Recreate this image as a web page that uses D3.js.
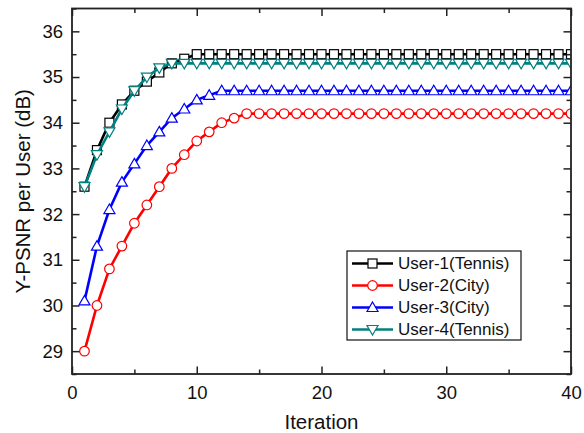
<!DOCTYPE html>
<html>
<head>
  <meta charset="utf-8">
  <title>Y-PSNR per User</title>
  <style>
    body { margin: 0; background: #fff; }
    text { font-family: Arial, "Liberation Sans", sans-serif; fill: #111; }
  </style>
</head>
<body>
  <div id="graph"></div>
  <script src="https://cdn.jsdelivr.net/npm/d3@7"></script>
  <script>
    // iterations 1..40
    const iterations = d3.range(1, 41);

    // values, the tail stays flat
    const user1 = [32.6, 33.4, 34.0, 34.4, 34.7, 34.9, 35.1, 35.3, 35.4, 35.5];
    const user2 = [29.0, 30.0, 30.8, 31.3, 31.8, 32.2, 32.6, 33.0, 33.3, 33.6, 33.8, 34.0, 34.1, 34.2];
    const user3 = [30.1, 31.3, 32.1, 32.7, 33.1, 33.5, 33.8, 34.1, 34.3, 34.5, 34.6, 34.7];
    const user4 = [32.6, 33.3, 33.8, 34.3, 34.7, 35.0, 35.2, 35.3];

    const seriesNames = ["User-1(Tennis)", "User-2(City)", "User-3(City)", "User-4(Tennis)"];
    const seriesColors = ["#000000", "#ff0000", "#0000ff", "#008080"];
    const seriesMarkers = ["square", "circle", "triangle", "triangleDown"];

    const xTicks = [0, 10, 20, 30, 40];
    const yTicks = [29, 30, 31, 32, 33, 34, 35, 36];

    // pad each series out to 40 iterations with its last value
    function fill(vals) {
      return iterations.map((it, i) => ({ x: it, y: i < vals.length ? vals[i] : vals[vals.length - 1] }));
    }
    const series = [user1, user2, user3, user4].map(fill);

    const margin = { top: 8.5, right: 13, bottom: 59, left: 72 },
      width = 584 - margin.left - margin.right,
      height = 433 - margin.top - margin.bottom;

    const svg = d3.select("#graph")
      .append("svg")
      .attr("width", 584)
      .attr("height", 433);

    const g = svg.append("g")
      .attr("transform", `translate(${margin.left},${margin.top})`);

    const x = d3.scaleLinear().domain([0, 40]).range([0, width]);
    const y = d3.scaleLinear().domain([28.5, 36.5]).range([height, 0]);

    g.append("clipPath")
      .attr("id", "clip")
      .append("rect")
      .attr("width", width)
      .attr("height", height);

    // markers
    function drawMarker(sel, type, color) {
      if (type === "square") {
        sel.append("rect").attr("x", -4.5).attr("y", -4.5).attr("width", 9).attr("height", 9);
      } else if (type === "circle") {
        sel.append("circle").attr("r", 4.8);
      } else if (type === "triangle") {
        sel.append("path").attr("d", "M0,-5.5L5.5,4L-5.5,4Z");
      } else {
        sel.append("path").attr("d", "M0,5.5L5.5,-4L-5.5,-4Z");
      }
      sel.selectAll("*")
        .attr("fill", "#fff")
        .attr("stroke", color)
        .attr("stroke-width", 1.2);
    }

    const line = d3.line().x(d => x(d.x)).y(d => y(d.y));

    const plot = g.append("g").attr("clip-path", "url(#clip)");

    series.forEach((data, i) => {
      const sg = plot.append("g");
      sg.append("path")
        .datum(data)
        .attr("fill", "none")
        .attr("stroke", seriesColors[i])
        .attr("stroke-width", 2.6)
        .attr("d", line);
      sg.selectAll("g.pt")
        .data(data)
        .enter().append("g")
        .attr("class", "pt")
        .attr("transform", d => `translate(${x(d.x)},${y(d.y)})`)
        .each(function () { drawMarker(d3.select(this), seriesMarkers[i], seriesColors[i]); });
    });

    // axes with inward ticks, mirrored on top and right
    const axisColor = "#222";
    const xMinor = d3.range(5, 40, 10);
    const yMinor = d3.range(28.5, 36.6, 1);

    g.append("g").attr("transform", `translate(0,${height})`)
      .call(d3.axisBottom(x).tickValues(xTicks).tickSizeInner(-7.5).tickSizeOuter(0).tickPadding(12));
    g.append("g").attr("transform", `translate(0,${height})`)
      .call(d3.axisBottom(x).tickValues(xMinor).tickSizeInner(-4.5).tickSizeOuter(0).tickFormat(""));
    g.append("g")
      .call(d3.axisTop(x).tickValues(xTicks).tickSizeInner(-7.5).tickSizeOuter(0).tickFormat(""));
    g.append("g")
      .call(d3.axisTop(x).tickValues(xMinor).tickSizeInner(-4.5).tickSizeOuter(0).tickFormat(""));

    g.append("g")
      .call(d3.axisLeft(y).tickValues(yTicks).tickSizeInner(-7.5).tickSizeOuter(0).tickPadding(9));
    g.append("g")
      .call(d3.axisLeft(y).tickValues(yMinor).tickSizeInner(-4.5).tickSizeOuter(0).tickFormat(""));
    g.append("g").attr("transform", `translate(${width},0)`)
      .call(d3.axisRight(y).tickValues(yTicks).tickSizeInner(-7.5).tickSizeOuter(0).tickFormat(""));
    g.append("g").attr("transform", `translate(${width},0)`)
      .call(d3.axisRight(y).tickValues(yMinor).tickSizeInner(-4.5).tickSizeOuter(0).tickFormat(""));

    g.selectAll(".domain").remove();
    g.selectAll(".tick line").attr("stroke", axisColor).attr("stroke-width", 1.5);
    g.selectAll(".tick text").attr("font-size", 18.5).attr("fill", "#111");

    g.append("rect")
      .attr("width", width)
      .attr("height", height)
      .attr("fill", "none")
      .attr("stroke", axisColor)
      .attr("stroke-width", 1.8);

    // axis titles
    svg.append("text")
      .attr("x", margin.left + width / 2)
      .attr("y", 429)
      .attr("text-anchor", "middle")
      .attr("font-size", 20.5)
      .text("Iteration");

    svg.append("text")
      .attr("transform", `translate(30,${margin.top + height / 2}) rotate(-90)`)
      .attr("text-anchor", "middle")
      .attr("font-size", 20.5)
      .text("Y-PSNR per User (dB)");

    // legend
    const legend = svg.append("g").attr("transform", "translate(347,251)");
    legend.append("rect")
      .attr("width", 174)
      .attr("height", 89)
      .attr("fill", "#fff")
      .attr("stroke", "#111")
      .attr("stroke-width", 1.2);

    seriesNames.forEach((name, i) => {
      const row = legend.append("g").attr("transform", `translate(0,${12.5 + i * 22})`);
      row.append("line")
        .attr("x1", 5).attr("x2", 46)
        .attr("stroke", seriesColors[i])
        .attr("stroke-width", 2.6);
      const m = row.append("g").attr("transform", "translate(25.5,0)");
      drawMarker(m, seriesMarkers[i], seriesColors[i]);
      row.append("text")
        .attr("x", 51)
        .attr("dy", "0.35em")
        .attr("font-size", 17)
        .text(name);
    });
  </script>
</body>
</html>
